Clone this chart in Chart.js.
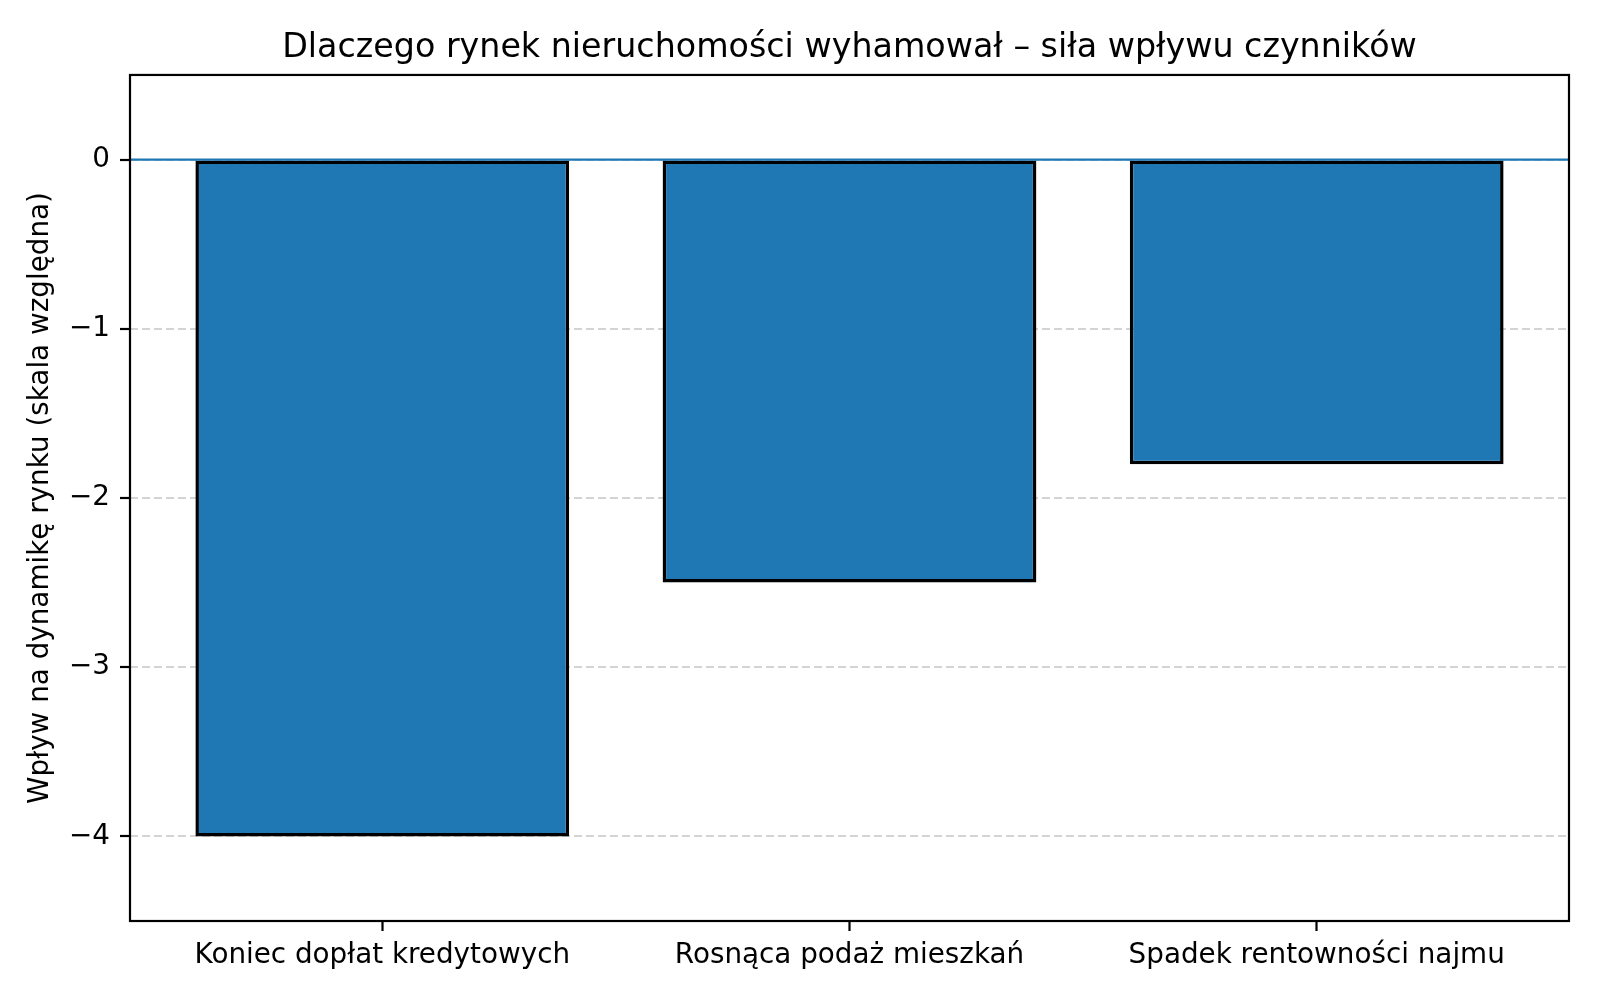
<!DOCTYPE html>
<html>
<head>
<meta charset="utf-8">
<script src="https://cdn.jsdelivr.net/npm/chart.js@4"></script>
<style>
  html, body { margin: 0; padding: 0; background: #fff; }
  #wrap { width: 1600px; height: 1000px; }
</style>
</head>
<body>
<div id="wrap"><canvas id="chart" width="1600" height="1000"></canvas></div>
<script>
// --- datos del wykresu ---
const kategorie = ['Koniec dopłat kredytowych', 'Rosnąca podaż mieszkań', 'Spadek rentowności najmu'];
const wplyw = [-4, -2.5, -1.8];
const yTicki = [0, -1, -2, -3, -4];
const tytul = 'Dlaczego rynek nieruchomości wyhamował – siła wpływu czynników';
const tytulOsiY = 'Wpływ na dynamikę rynku (skala względna)';

const NIEBIESKI = '#1f77b4';
const FONT = "'DejaVu Sans', 'Liberation Sans', sans-serif";

// linia zero + ramka dookoła wykresu (jak spines w matplotlib)
const ramka = {
    id: 'ramka',
    afterDraw(chart) {
        const { ctx, chartArea: a, scales } = chart;
        const y0 = scales.y.getPixelForValue(0);
        ctx.save();
        ctx.strokeStyle = NIEBIESKI;
        ctx.lineWidth = 2.2;
        ctx.beginPath();
        ctx.moveTo(a.left, y0);
        ctx.lineTo(a.right, y0);
        ctx.stroke();
        ctx.strokeStyle = '#000';
        ctx.lineWidth = 2.2;
        ctx.strokeRect(a.left, a.top, a.right - a.left, a.bottom - a.top);
        ctx.restore();
    }
};

new Chart(document.getElementById('chart').getContext('2d'), {
    type: 'bar',
    data: {
        datasets: [{
            data: wplyw.map((v, i) => ({ x: i, y: v })),
            backgroundColor: NIEBIESKI,
            borderColor: '#000',
            borderWidth: 3.5,
            borderSkipped: false,
            categoryPercentage: 1,
            barPercentage: 0.8
        }]
    },
    options: {
        responsive: false,
        animation: false,
        devicePixelRatio: 1,
        layout: { padding: { left: 0, right: 31, top: 0, bottom: 0 } },
        plugins: {
            legend: { display: false },
            tooltip: { enabled: false },
            title: {
                display: true,
                text: tytul,
                fullSize: false,
                color: '#000',
                font: { family: FONT, size: 33.3, weight: 'normal', lineHeight: 1.2 },
                padding: { top: 28, bottom: 7 }
            }
        },
        scales: {
            x: {
                type: 'linear',
                min: -0.54,
                max: 2.54,
                offset: false,
                afterBuildTicks: s => { s.ticks = kategorie.map((_, i) => ({ value: i })); },
                afterFit: s => { s.height = 79; },
                ticks: {
                    autoSkip: false,
                    maxRotation: 0,
                    padding: 8,
                    color: '#000',
                    font: { family: FONT, size: 27.8 },
                    callback: v => kategorie[v]
                },
                grid: {
                    offset: false,
                    drawOnChartArea: false,
                    drawTicks: true,
                    tickLength: 10,
                    tickWidth: 2.2,
                    tickColor: '#000'
                },
                border: { display: false }
            },
            y: {
                min: -4.5,
                max: 0.5,
                z: 1,
                afterBuildTicks: s => { s.ticks = yTicki.map(v => ({ value: v })); },
                afterFit: s => { s.width = 130; },
                ticks: {
                    padding: 10,
                    color: '#000',
                    font: { family: FONT, size: 27.8 },
                    callback: v => (v < 0 ? '\u2212' + Math.abs(v) : String(v))
                },
                grid: {
                    drawOnChartArea: true,
                    color: 'rgba(170,170,170,0.5)',
                    lineWidth: 2,
                    tickLength: 10,
                    tickWidth: 2.2,
                    tickColor: '#000'
                },
                border: { display: false, dash: [8, 4] },
                title: {
                    display: true,
                    text: tytulOsiY,
                    color: '#000',
                    font: { family: FONT, size: 27.8, lineHeight: 1.2 },
                    padding: { top: 24, bottom: 0 }
                }
            }
        }
    },
    plugins: [ramka]
});
</script>
</body>
</html>
